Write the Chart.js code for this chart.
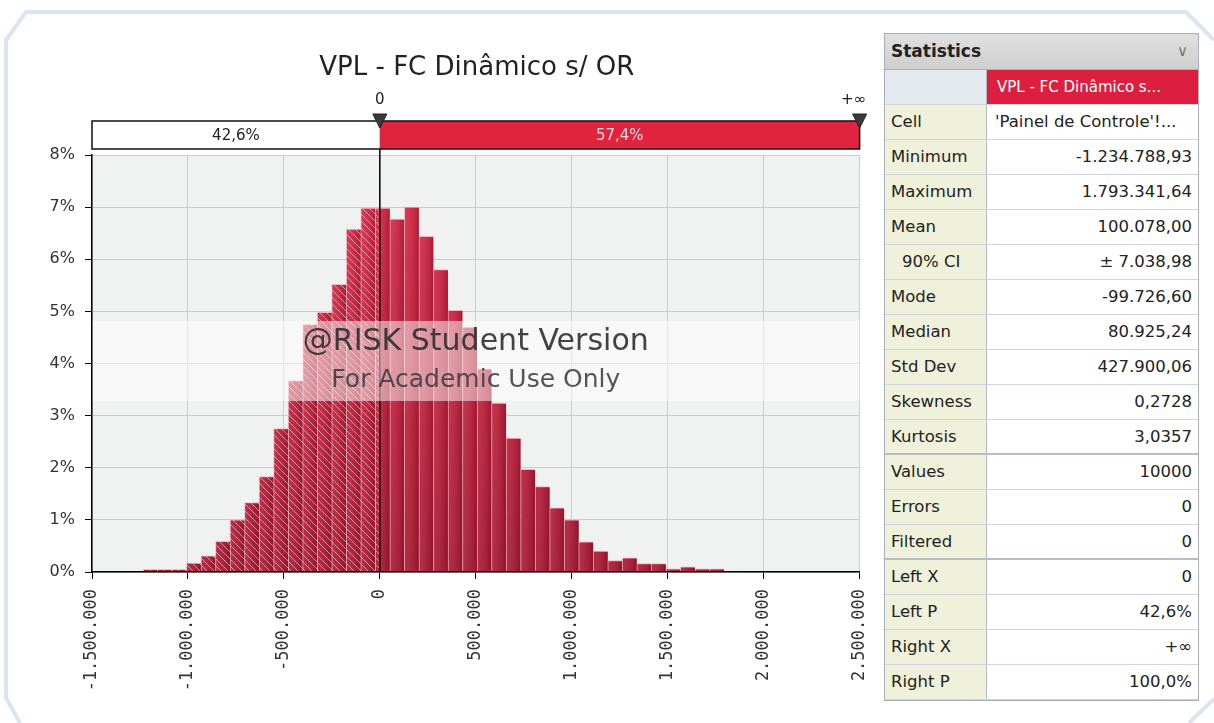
<!DOCTYPE html>
<html>
<head>
<meta charset="utf-8">
<script src="https://cdn.jsdelivr.net/npm/chart.js"></script>
<style>
  html, body { margin: 0; padding: 0; background: #fff; }
  body { width: 1214px; height: 723px; position: relative; overflow: hidden; font-family: 'DejaVu Sans', sans-serif; }
  #frame { position: absolute; left: 0; top: 0; }
  #c { position: absolute; left: 0; top: 0; }
  #stats { position: absolute; left: 884px; top: 33px; width: 313px; border: 1px solid #a9adb8; background: #fff; color: #222; }
  #stats .head { height: 36px; box-sizing: border-box; background: linear-gradient(#e0e0e0, #cfcfcf); border-bottom: 1px solid #aeb0b6;
    font-weight: bold; font-size: 17px; line-height: 35px; padding-left: 6px; position: relative; }
  #stats .head span { position: absolute; right: 10px; top: 0; font-weight: normal; color: #777; font-size: 15px; }
  #stats .row { display: flex; height: 35px; box-sizing: border-box; border-bottom: 1px solid #d0d4de; font-size: 16.5px; }
  #stats .row.sep { border-bottom: 2px solid #b8bcc8; }
  #stats .lab { width: 102px; flex: none; background: #eff1da; border-right: 1px solid #b4b8c4; padding-left: 6px; box-sizing: border-box; line-height: 34px; white-space: nowrap; }
  #stats .val { flex: 1; text-align: right; padding-right: 6px; line-height: 34px; white-space: nowrap; overflow: hidden; }
  #stats .row.top .lab { background: #e4e8ef; }
  #stats .row.top .val { background: #dc1f3e; color: #fff; text-align: left; padding-left: 10px; font-size: 15px; }
  #stats .row.cell .val { text-align: left; padding-left: 8px; }
  #stats .lab.ind { padding-left: 17px; }
</style>
</head>
<body>
<svg id="frame" width="1214" height="723">
  <polyline points="20,723 6,698 6,40 26,12 1186,12 1214,40" fill="none" stroke="#d9e5f3" stroke-width="4"/>
  <polyline points="1189,723 1214,699" fill="none" stroke="#d9e5f3" stroke-width="4"/>
</svg>
<canvas id="c" width="890" height="723"></canvas>
<div id="stats"></div>
<script>
// histogram: 40 bins between the simulated min and max
const simMin = -1234788.93;
const simMax = 1793341.64;
const binCount = 40;
const binPct = [
  0.05, 0.05, 0.05, 0.17, 0.31, 0.59, 1.00, 1.33, 1.83, 2.75,
  3.67, 4.75, 4.98, 5.52, 6.58, 6.98, 6.98, 6.77, 7.00, 6.44,
  5.80, 5.02, 4.70, 3.90, 3.24, 2.57, 1.97, 1.64, 1.23, 1.00,
  0.58, 0.40, 0.22, 0.27, 0.16, 0.16, 0.06, 0.10, 0.06, 0.06
];

// axes
const xMin = -1500000, xMax = 2500000, xStep = 500000;
const yMin = 0, yMax = 8, yStep = 1;

// delimiters
const leftDelim = 0;
const delimLabels = ['0', '+\u221e'];
const delimPcts = ['42,6%', '57,4%'];

const chartTitle = 'VPL - FC Din\u00e2mico s/ OR';
const watermark = ['@RISK Student Version', 'For Academic Use Only'];

// statistics panel
const statHeader = 'VPL - FC Din\u00e2mico s...';
const statLabels = ['Cell', 'Minimum', 'Maximum', 'Mean', '90% CI', 'Mode', 'Median', 'Std Dev', 'Skewness', 'Kurtosis',
  'Values', 'Errors', 'Filtered', 'Left X', 'Left P', 'Right X', 'Right P'];
const statValues = ["'Painel de Controle'!...", '-1.234.788,93', '1.793.341,64', '100.078,00', '\u00b1 7.038,98', '-99.726,60',
  '80.925,24', '427.900,06', '0,2728', '3,0357', '10000', '0', '0', '0', '42,6%', '+\u221e', '100,0%'];

// build stats table
const stats = document.getElementById('stats');
let html = '<div class="head">Statistics<span>\u2228</span></div>';
html += '<div class="row top"><div class="lab"></div><div class="val">' + statHeader + '</div></div>';
statLabels.forEach((lab, i) => {
  let cls = 'row';
  if (lab === 'Cell') cls += ' cell';
  if (lab === 'Kurtosis' || lab === 'Filtered') cls += ' sep';
  const labCls = lab === '90% CI' ? 'lab ind' : 'lab';
  html += `<div class="${cls}"><div class="${labCls}">${lab}</div><div class="val">${statValues[i]}</div></div>`;
});
stats.innerHTML = html;

const binWidth = (simMax - simMin) / binCount;
const points = binPct.map((p, i) => ({ x: simMin + (i + 0.5) * binWidth, y: p }));

const fmtNum = v => {
  const s = Math.abs(v).toFixed(0).replace(/\B(?=(\d{3})+(?!\d))/g, '.');
  return (v < 0 ? '-' : '') + s;
};

const decor = {
  id: 'decor',
  beforeDraw(chart) {
    const { ctx, chartArea: a } = chart;
    ctx.save();
    ctx.fillStyle = '#f0f1f1';
    ctx.fillRect(a.left, a.top, a.right - a.left, a.bottom - a.top);
    ctx.restore();
  },
  afterDatasetsDraw(chart) {
    const { ctx, chartArea: a, scales: { x } } = chart;
    const zx = x.getPixelForValue(leftDelim);
    const bars = chart.getDatasetMeta(0).data;
    ctx.save();
    bars.forEach(b => {
      const l = b.x - b.width / 2, r = b.x + b.width / 2, t = b.y, bot = b.base;
      const g = ctx.createLinearGradient(l, 0, r, 0);
      g.addColorStop(0, 'rgba(255,255,255,0.10)');
      g.addColorStop(1, 'rgba(60,0,10,0.22)');
      ctx.fillStyle = g;
      ctx.fillRect(l + 1, t + 1, r - l - 1, bot - t - 1);
      if (l < zx) {
        ctx.save();
        ctx.beginPath();
        ctx.rect(l, t, Math.min(r, zx) - l, bot - t);
        ctx.clip();
        ctx.strokeStyle = 'rgba(255,255,255,0.5)';
        ctx.lineWidth = 1;
        ctx.beginPath();
        for (let c = Math.floor((l - bot) / 7) * 7; c < r - t; c += 7) {
          ctx.moveTo(c + t, t);
          ctx.lineTo(c + bot, bot);
        }
        ctx.stroke();
        ctx.restore();
      }
    });
    // delimiter line
    ctx.strokeStyle = '#000';
    ctx.lineWidth = 1.5;
    ctx.beginPath();
    ctx.moveTo(zx, a.top - 34);
    ctx.lineTo(zx, a.bottom);
    ctx.stroke();
    // watermark band
    const h = a.bottom - a.top;
    const bt = a.top + h * 0.398, bb = a.top + h * 0.59;
    ctx.fillStyle = 'rgba(255,255,255,0.5)';
    ctx.fillRect(a.left, bt, a.right - a.left, bb - bt);
    const cx = (a.left + a.right) / 2;
    ctx.textAlign = 'center';
    ctx.textBaseline = 'middle';
    ctx.fillStyle = 'rgba(45,45,45,0.9)';
    ctx.font = '30px "DejaVu Sans"';
    ctx.fillText(watermark[0], cx, bt + 21);
    ctx.fillStyle = 'rgba(55,55,55,0.85)';
    ctx.font = '25px "DejaVu Sans"';
    ctx.fillText(watermark[1], cx, bt + 60);
    ctx.restore();
  },
  afterDraw(chart) {
    const { ctx, chartArea: a, scales: { x } } = chart;
    const zx = x.getPixelForValue(leftDelim);
    const cx = (a.left + a.right) / 2;
    ctx.save();
    ctx.textAlign = 'center';
    ctx.textBaseline = 'middle';
    ctx.fillStyle = '#222';
    ctx.font = '26px "DejaVu Sans"';
    ctx.fillText(chartTitle, cx + 1, 68);
    // delimiter bar
    const top = a.top - 34, bot = a.top - 6;
    ctx.fillStyle = '#fff';
    ctx.fillRect(a.left, top, zx - a.left, bot - top);
    ctx.fillStyle = '#e0233f';
    ctx.fillRect(zx, top, a.right - zx, bot - top);
    ctx.strokeStyle = '#111';
    ctx.lineWidth = 1.5;
    ctx.strokeRect(a.left, top, a.right - a.left, bot - top);
    ctx.font = '15px "DejaVu Sans"';
    ctx.fillStyle = '#222';
    ctx.fillText(delimPcts[0], (a.left + zx) / 2, (top + bot) / 2 + 1);
    ctx.fillStyle = '#ffd6de';
    ctx.fillText(delimPcts[1], (zx + a.right) / 2, (top + bot) / 2 + 1);
    ctx.fillStyle = '#222';
    ctx.fillText(delimLabels[0], zx, 100);
    ctx.fillText(delimLabels[1], a.right - 6, 100);
    [zx, a.right].forEach(px => {
      ctx.beginPath();
      ctx.moveTo(px - 7, top - 7);
      ctx.lineTo(px + 7, top - 7);
      ctx.lineTo(px, top + 7);
      ctx.closePath();
      ctx.fillStyle = '#3a3a3a';
      ctx.fill();
      ctx.strokeStyle = '#222';
      ctx.lineWidth = 1;
      ctx.stroke();
    });
    ctx.restore();
  }
};

Chart.defaults.font.family = '"DejaVu Sans", sans-serif';

const ctx = document.getElementById('c').getContext('2d');
const histChart = new Chart(ctx, {
  type: 'bar',
  data: {
    datasets: [{
      data: points,
      backgroundColor: c => {
        const a = c.chart.chartArea;
        if (!a) return '#c41a38';
        const g = c.chart.ctx.createLinearGradient(0, a.top, 0, a.bottom);
        g.addColorStop(0, '#dc2443');
        g.addColorStop(1, '#a8152f');
        return g;
      },
      borderColor: 'rgba(245,150,170,0.65)',
      borderWidth: { left: 1, right: 0, top: 1, bottom: 0 },
      borderSkipped: false,
      barPercentage: 1,
      categoryPercentage: 1
    }]
  },
  options: {
    responsive: false,
    animation: false,
    layout: { padding: { top: 155, right: 0, left: 0, bottom: 0 } },
    plugins: {
      legend: { display: false },
      tooltip: { enabled: false }
    },
    scales: {
      x: {
        type: 'linear',
        offset: false,
        min: xMin,
        max: xMax,
        afterFit: s => { s.height = 151; },
        ticks: {
          stepSize: xStep,
          minRotation: 90,
          maxRotation: 90,
          padding: 10,
          color: '#333',
          font: { family: '"DejaVu Sans Mono", monospace', size: 17 },
          callback: v => fmtNum(v)
        },
        grid: { offset: false, color: '#cbcbd0', lineWidth: 1, tickColor: '#000', tickLength: 7 },
        border: { color: '#000', width: 1.5, z: 1 }
      },
      y: {
        min: yMin,
        max: yMax,
        afterFit: s => { s.width = 92; },
        ticks: {
          stepSize: yStep,
          padding: 10,
          color: '#333',
          font: { size: 16 },
          callback: v => v + '%'
        },
        grid: { color: '#cbcbd0', lineWidth: 1, tickColor: '#000', tickLength: 7 },
        border: { color: '#000', width: 1.5, z: 1 }
      }
    }
  },
  plugins: [decor]
});
</script>
</body>
</html>
